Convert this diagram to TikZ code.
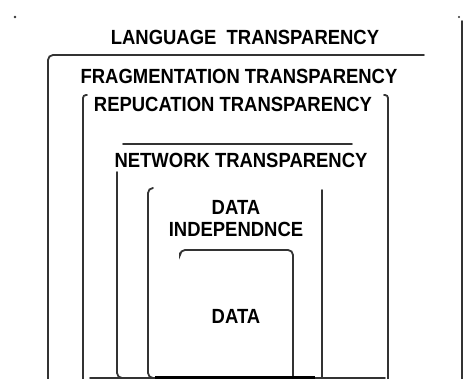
\documentclass[tikz,border=0pt]{standalone}
\usepackage{fontspec}
\setmainfont{Liberation Sans}
\newfontfamily\layerfont[FakeStretch=0.9]{Liberation Sans}
\usepackage{tikz}

\tikzset{
    wall/.style={line width=1.8pt, black!80, line cap=round},
    layer/.style={font=\layerfont\bfseries\fontsize{20.5}{22}\selectfont, inner sep=0pt, align=center}
}

\begin{document}
\begin{tikzpicture}[x=1pt, y=-1pt]

\useasboundingbox (0,0) rectangle (464,379);

% ---------------- LANGUAGE ----------------

\fill[black!80] (15,17) circle (1.3);
\fill[black!80] (459,17) circle (1.1);

\draw[wall] (462,21) -- (462,379);

\node[layer] (language) at (245,37) {LANGUAGE\ \ TRANSPARENCY};


% ---------------- FRAGMENTATION ----------------

\draw[
    wall,
    rounded corners=5pt
] (48,379) -- (48,55) -- (424,55);

\node[layer] (fragmentation) at (239,76) {FRAGMENTATION TRANSPARENCY};


% ---------------- REPLICATION ----------------

\draw[
    wall,
    rounded corners=3pt
] (87,95) -- (83,95) -- (83,379);

\draw[
    wall,
    rounded corners=3pt
] (384,95) -- (388,95) -- (388,379);

\node[layer] (replication) at (233,104) {REPUCATION TRANSPARENCY};


% ---------------- NETWORK ----------------

\draw[wall] (123,144) -- (352,144);

\draw[
    wall,
    rounded corners=5pt
] (117,172) -- (117,378) -- (123,378);

\node[layer] (network) at (241,160) {NETWORK TRANSPARENCY};


% ---------------- DATA INDEPENDENCE ----------------

\draw[
    wall,
    rounded corners=5pt
] (153,188) -- (148,188) -- (148,378) -- (155,378);

\draw[wall] (322,190) -- (322,377);

\node[layer] (independence) at (236,219) {DATA\\INDEPENDNCE};


% ---------------- DATA ----------------

\draw[
    wall,
    rounded corners=5pt
] (180,253) -- (180,250) -- (293,250) -- (293,378);

\node[layer] (data) at (236,316) {DATA};


% ---------------- BASE ----------------

\draw[wall] (90,378) -- (385,378);
\draw[line width=3pt, black] (155,378) -- (315,378);

\end{tikzpicture}
\end{document}
